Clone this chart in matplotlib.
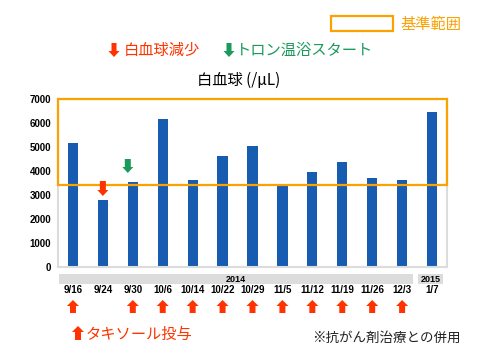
import matplotlib
matplotlib.use("Agg")
import matplotlib.pyplot as plt
from matplotlib.patches import Polygon, Rectangle
from matplotlib.transforms import IdentityTransform, blended_transform_factory

plt.rcParams['font.family'] = ['Noto Sans CJK JP', 'DejaVu Sans']

dates = ["9/16", "9/24", "9/30", "10/6", "10/14", "10/22", "10/29", "11/5",
         "11/12", "11/19", "11/26", "12/3", "1/7"]
wbc = [5150, 2800, 3550, 6150, 3630, 4640, 5060, 3400, 3960, 4380, 3710, 3630, 6460]
years = ["2014", "2015"]
year_counts = [12, 1]
ref_low, ref_high = 3400, 7000
taxol_days = ["9/16", "9/30", "10/6", "10/14", "10/22", "10/29", "11/5",
              "11/12", "11/19", "11/26", "12/3"]
wbc_drop_day = "9/24"
tron_start_day = "9/30"
yticks = [0, 1000, 2000, 3000, 4000, 5000, 6000, 7000]

BLUE = "#175cb0"
ORANGE = "#fba100"
RED = "#ff3300"
GREEN = "#1b9a5c"
GRAY = "#dcdcdc"

W, H = 479, 360
fig = plt.figure(figsize=(W / 100, H / 100), dpi=100)
ax = fig.add_axes([58 / W, 1 - 267 / H, (447 - 58) / W, (267 - 99) / H])

x = list(range(len(dates)))
ax.bar(x, wbc, width=0.34, color=BLUE, zorder=2)
ax.set_xlim(-0.5, len(dates) - 0.5)
ax.set_ylim(0, 7000)
ax.set_yticks(yticks)
ax.set_yticklabels([str(v) for v in yticks], fontsize=7, fontweight='bold',
                   family=['Liberation Sans', 'DejaVu Sans'])
ax.tick_params(axis='y', length=0, pad=5)
ax.set_xticks([])
for s in ['left', 'right', 'bottom']:
    ax.spines[s].set_color(GRAY)
    ax.spines[s].set_linewidth(1.5)
ax.spines['top'].set_visible(False)

ax.add_patch(Rectangle((-0.5, ref_low), len(dates), ref_high - ref_low,
                       fill=False, edgecolor=ORANGE, linewidth=1.6,
                       zorder=3, clip_on=False))

bt = blended_transform_factory(ax.transData, fig.transFigure)

def fy(py):
    return 1 - py / H

# year bands
start = -0.5
for yr, cnt in zip(years, year_counts):
    ax.add_patch(Rectangle((start + 0.02, fy(284)), cnt - 0.14, fy(274) - fy(284),
                           transform=bt, color=GRAY, clip_on=False, lw=0))
    ax.text(start + cnt / 2 - 0.05, fy(279), yr, transform=bt, ha='center', va='center',
            fontsize=6.5, fontweight='bold', family=['Liberation Sans', 'DejaVu Sans'])
    start += cnt

for i, d in enumerate(dates):
    ax.text(i, fy(290), d, transform=bt, ha='center', va='center', fontsize=7,
            fontweight='bold', family=['Liberation Sans', 'DejaVu Sans'])

fig.canvas.draw()

def arrow(px, py_top, py_bot, color, up, shaft=6, head=12, head_h=6):
    # pixel coords in image space (y down)
    yt, yb = H - py_top, H - py_bot
    hs, hh = shaft / 2, head / 2
    if up:
        pts = [(px, yt), (px + hh, yt - head_h), (px + hs, yt - head_h),
               (px + hs, yb), (px - hs, yb), (px - hs, yt - head_h), (px - hh, yt - head_h)]
    else:
        pts = [(px, yb), (px + hh, yb + head_h), (px + hs, yb + head_h),
               (px + hs, yt), (px - hs, yt), (px - hs, yb + head_h), (px - hh, yb + head_h)]
    fig.add_artist(Polygon(pts, closed=True, color=color, transform=IdentityTransform(), lw=0))

def xpix(i):
    return ax.transData.transform((i, 0))[0]

for d in taxol_days:
    arrow(xpix(dates.index(d)), 300, 313, RED, up=True)

i2 = dates.index(wbc_drop_day)
arrow(xpix(i2), 181, 196, RED, up=False, shaft=6, head=11, head_h=6)
i3 = dates.index(tron_start_day)
arrow(xpix(i3) - 5, 159, 173, GREEN, up=False, shaft=6, head=11, head_h=6)

# legend items
fig.add_artist(Rectangle((331 / W, fy(31)), 62 / W, 15 / H, fill=False,
                         edgecolor=ORANGE, lw=1.6))
fig.text(400 / W, fy(24), "基準範囲", color=ORANGE, fontsize=11, va='center', ha='left')

arrow(114, 43, 57, RED, up=False, shaft=5, head=11, head_h=6)
fig.text(124 / W, fy(50), "白血球減少", color=RED, fontsize=11, va='center', ha='left')
arrow(229, 43, 57, GREEN, up=False, shaft=5, head=11, head_h=6)
fig.text(236 / W, fy(50), "トロン温浴スタート", color=GREEN, fontsize=11, va='center', ha='left')

fig.text(239 / W, fy(80), "白血球 (/μL)", color='black', fontsize=11, va='center', ha='center')

arrow(78, 326, 340, RED, up=True, shaft=6, head=12, head_h=6)
fig.text(86 / W, fy(334), "タキソール投与", color=RED, fontsize=11, va='center', ha='left')

fig.text(461 / W, fy(338), "※抗がん剤治療との併用", color='#222222', fontsize=9.7,
         va='center', ha='right')

fig.savefig("out.png", dpi=100)
